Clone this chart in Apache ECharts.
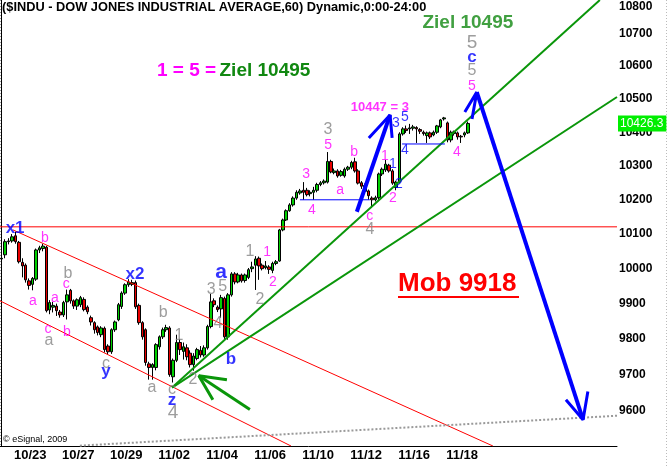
<!DOCTYPE html>
<html>
<head>
<meta charset="utf-8">
<title>$INDU 60</title>
<script src="https://cdn.jsdelivr.net/npm/echarts@6.0.0/dist/echarts.min.js"></script>
<style>
html, body { margin: 0; padding: 0; background: #fff; }
#chart { width: 669px; height: 466px; }
</style>
</head>
<body>
<div id="chart"></div>
<script>
// hourly sessions, 7 bars a day
const tradingDays = ['10/22', '10/23', '10/26', '10/27', '10/28', '10/29', '10/30', '11/02', '11/03', '11/04',
  '11/05', '11/06', '11/09', '11/10', '11/11', '11/12', '11/13', '11/16', '11/17', '11/18',
  '11/19', '11/20', '11/23', '11/24', '11/25', '11/27']
const hours = ['09:30', '10:30', '11:30', '12:30', '13:30', '14:30', '15:30']
const dateLabels = ['10/23', '10/27', '10/29', '11/02', '11/04', '11/06', '11/10', '11/12', '11/16', '11/18']
const priceTicks = [9600, 9700, 9800, 9900, 10000, 10100, 10200, 10300, 10400, 10500, 10600, 10700, 10800]
const lastPrice = 10426.3

// [open, close, low, high]
const bars = [
  [10028, 10030, 10015, 10040], [10040, 10078, 10030, 10085], [10078, 10080, 10070, 10088], [10080, 10092, 10075, 10100],
  [10095, 10078, 10072, 10107], [10076, 10020, 10015, 10080], [10018, 10008, 9975, 10030], [10010, 9968, 9960, 10015],
  [9965, 9952, 9940, 9972], [9955, 9972, 9938, 9976], [9970, 10054, 9965, 10058], [10054, 10060, 10045, 10066],
  [10058, 10065, 10050, 10072], [10062, 9880, 9875, 10066], [9882, 9903, 9870, 9910], [9890, 9895, 9875, 9905],
  [9893, 9880, 9865, 9900], [9876, 9868, 9860, 9882], [9868, 9903, 9862, 9908], [9905, 9925, 9855, 9940],
  [9938, 9908, 9900, 9942], [9908, 9893, 9885, 9912], [9893, 9911, 9882, 9915], [9897, 9917, 9890, 9922],
  [9912, 9883, 9878, 9918], [9890, 9877, 9870, 9895], [9860, 9848, 9838, 9866], [9846, 9826, 9815, 9850],
  [9834, 9818, 9810, 9838], [9812, 9831, 9805, 9836], [9830, 9770, 9762, 9835], [9780, 9764, 9757, 9785],
  [9764, 9826, 9758, 9830], [9826, 9848, 9820, 9852], [9854, 9897, 9850, 9902], [9892, 9930, 9885, 9935],
  [9930, 9954, 9925, 9958], [9954, 9962, 9948, 9970], [9955, 9960, 9950, 9968], [9960, 9891, 9885, 9966],
  [9895, 9846, 9840, 9900], [9846, 9806, 9798, 9850], [9826, 9734, 9725, 9830], [9730, 9720, 9686, 9736],
  [9720, 9728, 9686, 9732], [9720, 9784, 9712, 9788], [9778, 9806, 9770, 9810], [9806, 9826, 9800, 9832],
  [9826, 9832, 9820, 9840], [9831, 9700, 9694, 9836], [9694, 9740, 9678, 9745], [9740, 9790, 9735, 9812],
  [9790, 9770, 9755, 9800], [9765, 9778, 9742, 9790], [9775, 9750, 9740, 9785], [9760, 9728, 9720, 9768],
  [9728, 9752, 9711, 9760], [9745, 9770, 9740, 9775], [9768, 9755, 9748, 9780], [9755, 9775, 9750, 9782],
  [9775, 9835, 9770, 9840], [9835, 9905, 9830, 9928], [9908, 9897, 9890, 9915], [9890, 9883, 9876, 9895],
  [9885, 9917, 9860, 9925], [9915, 9806, 9800, 9920], [9806, 9925, 9798, 9930], [9925, 9985, 9920, 9990],
  [9985, 9962, 9955, 9990], [9962, 9982, 9958, 9988], [9982, 9965, 9960, 9986], [9966, 9982, 9960, 9986],
  [9975, 9997, 9970, 10002], [10000, 10005, 9990, 10020], [10010, 10028, 9939, 10036], [10030, 10008, 9968, 10035],
  [10010, 10000, 9995, 10015], [10003, 10008, 9998, 10022], [10005, 9998, 9985, 10010], [9995, 10015, 9987, 10020],
  [10015, 10020, 10010, 10025], [10022, 10112, 10020, 10115], [10112, 10141, 10108, 10145], [10141, 10168, 10138, 10172],
  [10168, 10185, 10165, 10190], [10185, 10205, 10180, 10210], [10205, 10222, 10200, 10228], [10220, 10226, 10215, 10232],
  [10228, 10222, 10200, 10252], [10228, 10215, 10210, 10235], [10218, 10222, 10210, 10228], [10222, 10228, 10200, 10238],
  [10228, 10245, 10222, 10250], [10245, 10250, 10240, 10255], [10250, 10255, 10245, 10260], [10252, 10313, 10248, 10341],
  [10313, 10282, 10278, 10318], [10280, 10285, 10275, 10292], [10285, 10270, 10265, 10290], [10272, 10283, 10268, 10288],
  [10270, 10290, 10265, 10295], [10290, 10296, 10285, 10300], [10296, 10310, 10290, 10315], [10312, 10285, 10280, 10324],
  [10285, 10249, 10245, 10290], [10250, 10240, 10232, 10255], [10242, 10225, 10218, 10248], [10226, 10212, 10200, 10230],
  [10205, 10200, 10176, 10210], [10200, 10206, 10195, 10212], [10206, 10276, 10200, 10280], [10276, 10290, 10270, 10295],
  [10288, 10305, 10282, 10318], [10302, 10285, 10280, 10306], [10285, 10249, 10244, 10290], [10236, 10252, 10228, 10256],
  [10252, 10395, 10248, 10400], [10395, 10410, 10390, 10415], [10410, 10405, 10398, 10420], [10410, 10413, 10395, 10425],
  [10412, 10416, 10405, 10422], [10414, 10410, 10368, 10418], [10408, 10403, 10395, 10412], [10400, 10396, 10390, 10405],
  [10390, 10398, 10368, 10402], [10398, 10386, 10380, 10402], [10392, 10400, 10388, 10405], [10400, 10419, 10395, 10422],
  [10416, 10437, 10412, 10440], [10440, 10443, 10435, 10446], [10428, 10377, 10370, 10432], [10377, 10400, 10370, 10405],
  [10401, 10396, 10390, 10405], [10398, 10386, 10378, 10402], [10388, 10386, 10368, 10392], [10392, 10398, 10385, 10402],
  [10398, 10426.3, 10395, 10432]
]

// drawn lines: [bar index, price]
const level10121 = [[-0.5, 10121], [179.5, 10121]]
const channelTop = [[3.3, 10112], [143.3, 9503]]
const channelBottom = [[-0.5, 9908], [84.4, 9503]]
const trendSteep = [[49.7, 9664], [174.5, 10803]]
const trendFlat = [[49.7, 9664], [179.5, 10506]]
const baseLine = [[22.8, 9504], [179.5, 9586]]
const shelf1 = [[87.0, 10200], [107.4, 10200]]
const shelf2 = [[116.8, 10365], [129.3, 10365]]
const upArrowShaft = [[103.6, 10165], [113.3, 10452]]
const upArrowHead = [[107.1, 10383], [113.3, 10452], [113.9, 10383]]
const dropShaft = [[138.6, 10521], [169.6, 9575]]
const dropHeadTop = [[135.1, 10461], [138.6, 10521], [137.2, 10440]]
const dropHeadBottom = [[164.6, 9630], [169.6, 9575], [171.0, 9653]]
const greenArrowShaft = [[72.4, 9603], [57.5, 9697]]
const greenArrowHead = [[65.7, 9686], [57.5, 9697], [61.6, 9630]]

// wave counts: [bar index, price, text]
const pinkMarks = [[12.6, 10089, 'b'], [9.1, 9908, 'a'], [15.5, 9917, 'a'], [18.8, 9957, 'c'], [13.5, 9829, 'c'],
  [19.0, 9818, 'b'], [77.4, 10048, '1'], [79.1, 9960, '2'], [88.8, 10276, '3'], [90.5, 10171, '4'],
  [95.2, 10362, '5'], [102.8, 10341, 'b'], [98.7, 10229, 'a'], [107.4, 10153, 'c'], [111.8, 10330, '1'],
  [114.1, 10206, '2'], [132.8, 10341, '4'], [137.2, 10539, '5']]
const pinkNote = [[110.3, 10473, '10447 = 3']]
const grayMarks = [[13.8, 9795, 'a'], [19.3, 9985, 'b'], [30.4, 9731, 'c'], [47.1, 9874, 'b'], [43.8, 9664, 'a'],
  [51.7, 9809, '1'], [55.8, 9686, '2'], [49.7, 9658, 'c'], [61.1, 9939, '3'], [64.5, 9948, '5'],
  [63.1, 9843, '4'], [72.4, 10048, '1'], [75.3, 9911, '2'], [95.2, 10407, '3'], [107.4, 10112, '4'],
  [137.2, 10585, '5']]
const grayBig = [[50.0, 9594, '4'], [137.2, 10670, '5']]
const blueMarks = [[3.9, 10118, 'x1'], [38.9, 9985, 'x2'], [30.4, 9708, 'y'], [49.7, 9628, 'z'],
  [66.9, 9744, 'b'], [137.2, 10627, 'c']]
const blueBig = [[64.0, 9990, 'a']]
const blueSmall = [[114.1, 10306, '1'], [115.9, 10247, '2'], [115.0, 10426, '3'], [117.6, 10444, '5'], [117.6, 10347, '4']]
const targetNote = [[136.0, 10732, 'Ziel 10495']]

const FONT = '"Liberation Sans", Arial, sans-serif'

const categories = []
tradingDays.forEach(d => hours.forEach(h => categories.push(d + ' ' + h)))
const xCats = categories.slice(0, 180)

function seg (data, color, width, type) {
  return {
    type: 'line', xAxisIndex: 1, data: data, symbol: 'none', silent: true, z: 3,
    lineStyle: { color: color, width: width, type: type || 'solid' }
  }
}

function marks (data, color, size, weight) {
  return {
    type: 'scatter', xAxisIndex: 1, data: data, symbolSize: 1, silent: true, z: 5,
    itemStyle: { color: 'rgba(0,0,0,0)' },
    label: {
      show: true, position: 'inside', formatter: p => p.data[2],
      color: color, fontSize: size, fontWeight: weight, fontFamily: FONT
    }
  }
}

const chart = echarts.init(document.getElementById('chart'))
const option = {
  animation: false,
  backgroundColor: '#fff',
  grid: { left: 0, right: 52, top: 0, bottom: 20 },
  xAxis: [
    {
      type: 'category',
      data: xCats,
      boundaryGap: true,
      axisLine: { lineStyle: { color: '#000', width: 1 } },
      axisTick: { show: false },
      splitLine: { show: false },
      axisLabel: {
        interval: (i, v) => i % 7 === 0 && dateLabels.indexOf(v.split(' ')[0]) >= 0,
        formatter: v => v.split(' ')[0],
        color: '#000', fontWeight: 'bold', fontSize: 13, fontFamily: FONT,
        margin: 3, padding: [0, 0, 0, 9]
      }
    },
    { type: 'value', min: -0.5, max: 179.5, show: false }
  ],
  yAxis: {
    type: 'log',
    logBase: 10,
    min: 9503,
    max: 10803,
    position: 'right',
    axisLine: { show: true, lineStyle: { color: '#000', width: 1 } },
    axisTick: { show: false },
    splitLine: { show: false },
    axisLabel: {
      customValues: priceTicks,
      formatter: v => String(Math.round(v)),
      color: '#000', fontWeight: 'bold', fontSize: 12, fontFamily: FONT,
      margin: 2,
      verticalAlignMaxLabel: 'top'
    }
  },
  graphic: [
    { type: 'line', shape: { x1: 0.5, y1: 0, x2: 0.5, y2: 446 }, style: { stroke: '#999', lineDash: [1, 2] } },
    { type: 'line', shape: { x1: 666.5, y1: 0, x2: 666.5, y2: 466 }, style: { stroke: '#bbb', lineDash: [1, 2] } },
    {
      type: 'text', left: 2, top: 1,
      style: { text: '($INDU - DOW JONES INDUSTRIAL AVERAGE,60) Dynamic,0:00-24:00', font: 'bold 12.8px ' + FONT, fill: '#000' }
    },
    {
      type: 'text', left: 157, top: 61,
      style: {
        text: '{p|1 = 5 =} {g|Ziel 10495}',
        rich: {
          p: { fill: '#ff00ff', font: 'bold 19px ' + FONT },
          g: { fill: '#118811', font: 'bold 19px ' + FONT }
        }
      }
    },
    { type: 'text', left: 398, top: 271, style: { text: 'Mob 9918', font: 'bold 26px ' + FONT, fill: '#ff0000' } },
    { type: 'rect', shape: { x: 398, y: 296, width: 121, height: 2 }, style: { fill: '#ff0000' } },
    { type: 'text', left: 3, top: 435, style: { text: '\u00a9 eSignal, 2009', font: '9px ' + FONT, fill: '#000' } }
  ],
  series: [
    {
      type: 'candlestick',
      data: bars,
      barWidth: 3,
      z: 2,
      itemStyle: { color: '#00d000', color0: '#e80000', borderColor: '#000', borderColor0: '#000', borderWidth: 1 },
      markLine: {
        silent: true,
        symbol: 'none',
        lineStyle: { color: 'rgba(0,0,0,0)', width: 0 },
        label: {
          show: true, position: 'end', distance: 1, formatter: String(lastPrice),
          backgroundColor: '#00ee00', color: '#fff', fontSize: 12, fontFamily: FONT, padding: [2, 3, 2, 2]
        },
        data: [{ yAxis: lastPrice }]
      }
    },
    seg(level10121, '#ff0000', 1),
    seg(channelTop, '#ff0000', 1),
    seg(channelBottom, '#ff0000', 1),
    seg(baseLine, '#999999', 2, 'dotted'),
    seg(trendSteep, '#0a960a', 2),
    seg(trendFlat, '#0a960a', 2),
    seg(shelf1, '#0000ff', 1),
    seg(shelf2, '#0000ff', 1),
    seg(upArrowShaft, '#0000ff', 4),
    seg(upArrowHead, '#0000ff', 3),
    seg(dropShaft, '#0000ff', 4),
    seg(dropHeadTop, '#0000ff', 3),
    seg(dropHeadBottom, '#0000ff', 3),
    seg(greenArrowShaft, '#0a960a', 3),
    seg(greenArrowHead, '#0a960a', 3),
    marks(pinkMarks, '#ff00ff', 14, 'normal'),
    marks(pinkNote, '#ff00ff', 13, 'bold'),
    marks(grayMarks, '#858585', 16, 'normal'),
    marks(grayBig, '#858585', 19, 'normal'),
    marks(blueMarks, '#0000ff', 17, 'bold'),
    marks(blueBig, '#0000ff', 21, 'bold'),
    marks(blueSmall, '#0000ff', 14, 'normal'),
    marks(targetNote, '#118811', 19, 'bold')
  ]
}
chart.setOption(option)
</script>
</body>
</html>
